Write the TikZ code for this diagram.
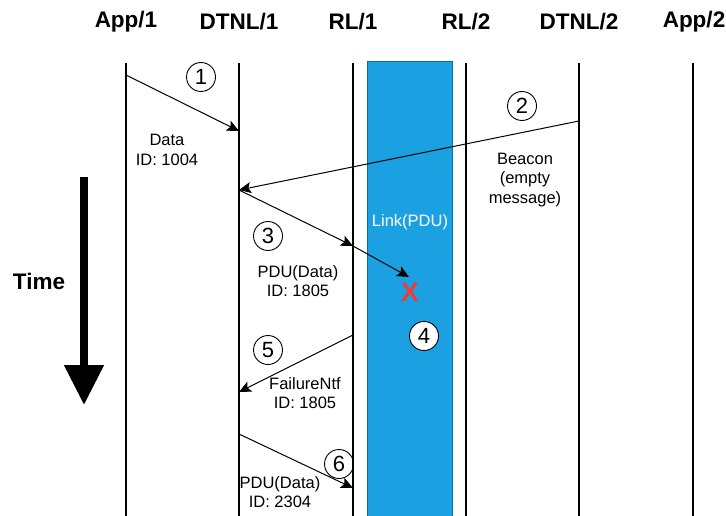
\documentclass[tikz,border=0pt]{standalone}
\usepackage{fontspec}
\setmainfont{Liberation Sans}
\usetikzlibrary{arrows.meta}
\definecolor{linkblue}{HTML}{1BA1E2}
\definecolor{linkedge}{HTML}{006EAF}
\definecolor{xred}{HTML}{EE3B3B}
\begin{document}
\begin{tikzpicture}[x=1pt,y=-1pt,
  hdr/.style={font=\fontsize{22.5}{24}\selectfont\bfseries},
  life/.style={line width=1.2pt,black},
  msg/.style={line width=1pt,-{Stealth[length=12pt,width=11pt,inset=2.5pt]}},
  lbl/.style={font=\fontsize{16.5}{19.5}\selectfont,align=center},
  num/.style={circle,draw,line width=0.9pt,minimum size=29pt,inner sep=0pt,font=\fontsize{22}{22}\selectfont}]
\useasboundingbox (0,0) rectangle (726,516);
% link band
\fill[linkblue,draw=linkedge,line width=0.6pt] (367,61) rectangle (452,517);
\node[lbl,text=white] (link) at (410,222) {Link(PDU)};
% headers
\node[hdr] (h1) at (126,22) {App/1};
\node[hdr] (h2) at (239,22) {DTNL/1};
\node[hdr] (h3) at (353,22) {RL/1};
\node[hdr] (h4) at (466,22) {RL/2};
\node[hdr] (h5) at (579,22) {DTNL/2};
\node[hdr] (h6) at (694,22) {App/2};
% lifelines
\foreach \n/\x in {a1/126,d1/239,r1/353,r2/466,d2/579,a2/693}{
  \coordinate (\n t) at (\x,63);
  \coordinate (\n b) at (\x,517);
  \draw[life] (\n t) -- (\n b);
}
% message points
\coordinate (m1s) at (126,75);  \coordinate (m1e) at (239,131);
\coordinate (m2s) at (579,121); \coordinate (m2e) at (239,190);
\coordinate (m3e) at (353,246); \coordinate (m4e) at (409,277);
\coordinate (m5s) at (353,335); \coordinate (m5e) at (239,392);
\coordinate (m6s) at (239,434); \coordinate (m6e) at (353,488);
\draw[msg] (m1s) -- (m1e);
\draw[msg] (m2s) -- (m2e);
\draw[msg] (m2e) -- (m3e);
\draw[msg] (m3e) -- (m4e);
\draw[msg] (m5s) -- (m5e);
\draw[msg] (m6s) -- (m6e);
% numbers
\node[num] (n1) at (201,77) {1};
\node[num] (n2) at (522,106) {2};
\node[num] (n3) at (268,236) {3};
\node[num,fill=white] (n4) at (424,336) {4};
\node[num] (n5) at (268,350) {5};
\node[num] (n6) at (339,464) {6};
% labels
\node[lbl] (l1) at (167,150) {Data\\ID: 1004};
\node[lbl] (l2) at (525,180) {Beacon\\(empty\\message)};
\node[lbl] (l3) at (298,281) {PDU(Data)\\ID: 1805};
\node[lbl] (l5) at (305,393) {FailureNtf\\ID: 1805};
\node[lbl] (l6) at (280,492) {PDU(Data)\\ID: 2304};
\node[font=\fontsize{27}{27}\selectfont\bfseries,text=xred] (x) at (410,292) {X};
% time
\node[hdr] (time) at (39,281) {Time};
\coordinate (ts) at (84,177);
\coordinate (te) at (84,405);
\draw[line width=8pt,-{Triangle[length=40pt,width=38pt]}] (ts) -- (te);
\end{tikzpicture}
\end{document}
